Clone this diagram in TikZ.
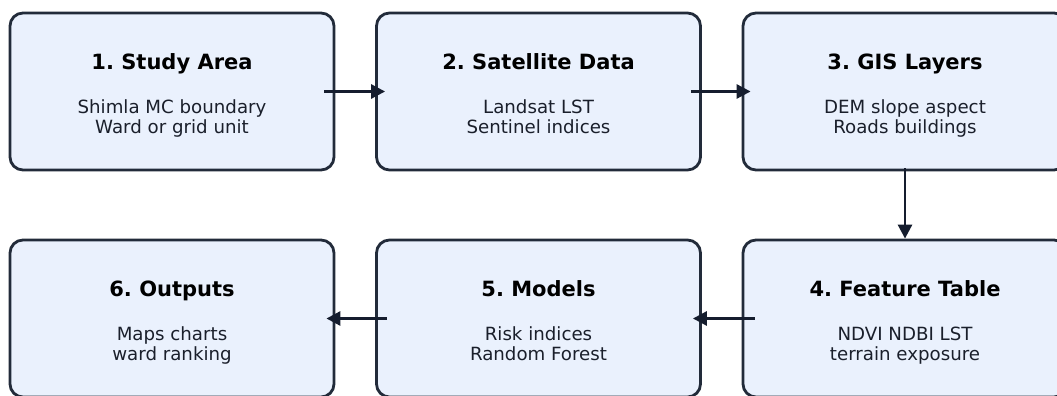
\documentclass[tikz,border=0pt]{standalone}
\usepackage{fontspec}
\setmainfont{DejaVu Sans}
\usetikzlibrary{arrows.meta,calc}
\frenchspacing
\definecolor{boxfill}{HTML}{EAF1FD}
\definecolor{boxline}{HTML}{222B3A}
\definecolor{arrcol}{HTML}{151D2E}
\definecolor{bodytext}{HTML}{1A1F2B}
\tikzset{
  stagebox/.style={draw=boxline, fill=boxfill, line width=2.8pt, rounded corners=13pt,
    minimum width=324pt, minimum height=157pt, inner sep=0pt},
  titletext/.style={anchor=base, inner sep=0pt, font=\bfseries\fontsize{21}{24}\selectfont, text=black},
  bodyline/.style={anchor=base, inner sep=0pt, font=\fontsize{18.2}{20}\selectfont, text=bodytext},
  flowarrow/.style={draw=arrcol, line width=2.8pt, -{Triangle[length=14pt,width=14pt]}}
}
\begin{document}
\begin{tikzpicture}[x=1pt,y=1pt]
\useasboundingbox (0,0) rectangle (1057,396);
\clip (0,0) rectangle (1057,396);
\fill[white] (0,0) rectangle (1057,396);
% boxes
\node[stagebox] (b1) at (172,304.5) {};
\node[stagebox] (b2) at (538.5,304.5) {};
\node[stagebox] (b3) at (905,304.5) {};
\node[stagebox] (b4) at (905,77.5) {};
\node[stagebox] (b5) at (538.5,77.5) {};
\node[stagebox] (b6) at (172,77.5) {};
% texts
\foreach \b/\t/\la/\lb in {
  b1/1. Study Area/Shimla MC boundary/Ward or grid unit,
  b2/2. Satellite Data/Landsat LST/Sentinel indices,
  b3/3. GIS Layers/DEM slope aspect/Roads buildings,
  b4/4. Feature Table/NDVI NDBI LST/terrain exposure,
  b5/5. Models/Risk indices/Random Forest,
  b6/6. Outputs/Maps charts/ward ranking}{
  \node[titletext] (\b-title) at ($(\b.center)+(0,21.5)$) {\t};
  \node[bodyline] (\b-l1) at ($(\b.center)+(0,-22.5)$) {\la};
  \node[bodyline] (\b-l2) at ($(\b.center)+(0,-42)$) {\lb};
}
% arrows
\draw[flowarrow] ($(b1.east)+(-11,0)$) -- ($(b2.west)+(10,0)$);
\draw[flowarrow] ($(b2.east)+(-11,0)$) -- ($(b3.west)+(9,0)$);
\draw[flowarrow] ($(b3.south)+(0,3)$) -- ($(b4.north)+(0,0)$);
\draw[flowarrow] ($(b4.west)+(13,0)$) -- ($(b5.east)+(-9,0)$);
\draw[flowarrow] ($(b5.west)+(12,0)$) -- ($(b6.east)+(-9,0)$);
\end{tikzpicture}
\end{document}
